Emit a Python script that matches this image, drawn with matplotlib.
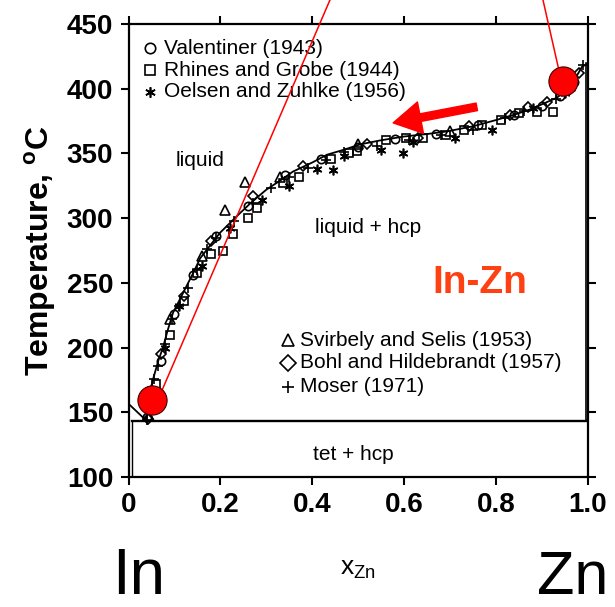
import matplotlib
matplotlib.use("Agg")
import matplotlib.pyplot as plt

plt.rcParams['font.family'] = ['Liberation Sans', 'DejaVu Sans']
plt.rcParams['mathtext.fontset'] = 'custom'
plt.rcParams['mathtext.rm'] = 'Liberation Sans'
plt.rcParams['mathtext.bf'] = 'Liberation Sans:bold'

# ---------------- data ----------------
liq_x = [0.0, 0.039, 0.045, 0.053, 0.065, 0.075, 0.085, 0.097, 0.11, 0.127, 0.14, 0.156, 0.18, 0.20,
         0.243, 0.27, 0.30, 0.33, 0.358, 0.40, 0.432, 0.47, 0.504, 0.547, 0.598, 0.65, 0.693, 0.75,
         0.802, 0.84, 0.874, 0.90, 0.932, 0.961, 0.987, 1.0]
liq_T = [156.6, 143.5, 160, 175, 190, 200, 213, 227, 236, 248, 257, 269, 280, 289,
         304, 313, 322, 329, 336, 343, 349, 353, 357, 360, 363, 365, 367, 371,
         376, 380, 384, 388, 393, 401, 417, 419.5]
eutectic_T = 143.5
eut_x = [0.007, 0.996]
in_solvus_x = [0.007, 0.007]
in_solvus_T = [143.5, 100]
zn_solvus_x = [0.996, 0.996]
zn_solvus_T = [143.5, 419.5]

val_x = [0.04, 0.07, 0.10, 0.14, 0.19, 0.26, 0.34, 0.42, 0.50, 0.58, 0.67, 0.76, 0.84, 0.90, 0.94, 0.97]
val_T = [146, 190, 226, 256, 286, 309, 333, 346, 355, 361, 365, 372, 380, 387, 394, 405]

rhi_x = [0.06, 0.09, 0.12, 0.15, 0.18, 0.206, 0.228, 0.26, 0.28, 0.337, 0.37, 0.44, 0.48, 0.497,
         0.56, 0.605, 0.64, 0.69, 0.73, 0.77, 0.81, 0.85, 0.889, 0.924]
rhi_T = [172, 210, 236, 258, 272, 275, 288, 300, 308, 327, 332, 346, 350, 352,
         360, 362, 362, 364, 368, 372, 376, 381, 382, 382]

oel_x = [0.05, 0.08, 0.11, 0.16, 0.22, 0.29, 0.35, 0.41, 0.445, 0.47, 0.55, 0.598, 0.62, 0.71, 0.79, 0.88, 0.95]
oel_T = [168, 200, 232, 263, 292, 314, 325, 338, 337, 348, 353, 350, 359, 362, 368, 385, 397]

svi_x = [0.045, 0.09, 0.16, 0.21, 0.254, 0.33, 0.50, 0.70, 0.96]
svi_T = [147, 222, 271, 306, 328, 332, 357, 367, 402]

boh_x = [0.042, 0.07, 0.12, 0.18, 0.27, 0.38, 0.52, 0.63, 0.74, 0.83, 0.87, 0.91, 0.95, 0.98]
boh_T = [145, 195, 240, 282, 317, 340, 357, 362, 371, 380, 386, 390, 399, 412]

mos_x = [0.04, 0.055, 0.065, 0.08, 0.095, 0.11, 0.13, 0.15, 0.17, 0.19, 0.23, 0.27, 0.31, 0.35,
         0.39, 0.43, 0.47, 0.54, 0.61, 0.68, 0.75, 0.82, 0.86, 0.93, 0.99]
mos_T = [144, 176, 186, 203, 222, 232, 246, 260, 276, 285, 298, 312, 323, 332,
         339, 345, 351, 356, 360, 364, 368, 377, 383, 392, 418]

x_ticks = [0, 0.2, 0.4, 0.6, 0.8, 1.0]
x_ticklabels = ['0', '0.2', '0.4', '0.6', '0.8', '1.0']
y_ticks = [100, 150, 200, 250, 300, 350, 400, 450]

legend_top = ['Valentiner (1943)', 'Rhines and Grobe (1944)', 'Oelsen and Zuhlke (1956)']
legend_bot = ['Svirbely and Selis (1953)', 'Bohl and Hildebrandt (1957)', 'Moser (1971)']

dot_x = [0.051, 0.9456]
dot_T = [159.5, 406]
line1_x = [0.0686, 0.4385]
line1_T = [163.4, 468.6]
line2_x = [0.939, 0.902]
line2_T = [410.7, 468.6]
arrow_tail = (0.758, 386)
arrow_head = (0.576, 373.6)

# ---------------- figure ----------------
fig = plt.figure(figsize=(6.15, 6.07), dpi=100)
ax = fig.add_axes([128.5/615, 130/607, 459.5/615, 453/607])
ax.set_xlim(0, 1.0)
ax.set_ylim(100, 450)

ax.plot(liq_x, liq_T, color='black', lw=1.3, zorder=3)
ax.plot(eut_x, [eutectic_T, eutectic_T], color='black', lw=1.7, zorder=3)
ax.plot(in_solvus_x, in_solvus_T, color='black', lw=1.0, zorder=3)
ax.plot(zn_solvus_x, zn_solvus_T, color='black', lw=1.2, zorder=3)

mk = dict(linestyle='none', markerfacecolor='none', markeredgecolor='black', markeredgewidth=1.2, zorder=4)
ax.plot(val_x, val_T, marker='o', ms=6, **mk)
ax.plot(rhi_x, rhi_T, marker='s', ms=6, **mk)
ax.plot(oel_x, oel_T, marker=(6, 2, 0), ms=7, **mk)
ax.plot(svi_x, svi_T, marker='^', ms=6.5, **mk)
ax.plot(boh_x, boh_T, marker='D', ms=5.5, **mk)
ax.plot(mos_x, mos_T, marker='+', ms=7.5, **mk)

# legends drawn as text
top_markers = ['o', 's', (6, 2, 0)]
top_y = [0.947, 0.898, 0.850]
for m, yy, lab in zip(top_markers, top_y, legend_top):
    ax.plot([0.047], [yy], marker=m, ms=7.5, transform=ax.transAxes, **mk)
    ax.text(0.078, yy, lab, transform=ax.transAxes, fontsize=15, va='center', ha='left')
bot_markers = ['^', 'D', '+']
bot_y = [0.302, 0.252, 0.199]
for m, yy, lab in zip(bot_markers, bot_y, legend_bot):
    ax.plot([0.347], [yy], marker=m, ms=8, transform=ax.transAxes, **mk)
    ax.text(0.373, yy, lab, transform=ax.transAxes, fontsize=15, va='center', ha='left')

ax.text(0.156, 0.698, 'liquid', transform=ax.transAxes, fontsize=15, ha='center', va='center')
ax.text(0.521, 0.550, 'liquid + hcp', transform=ax.transAxes, fontsize=15, ha='center', va='center')
ax.text(0.489, 0.049, 'tet + hcp', transform=ax.transAxes, fontsize=15, ha='center', va='center')

ax.text(0.765, 0.428, 'In-Zn', transform=ax.transAxes, fontsize=28, fontweight='bold',
        color='#ff4013', ha='center', va='center')

# axes styling
for s in ax.spines.values():
    s.set_linewidth(1.6)
ax.set_xticks(x_ticks)
ax.set_xticklabels(x_ticklabels)
ax.set_yticks(y_ticks)
ax.tick_params(direction='out', length=6, width=1.5, top=True, right=True,
               labeltop=False, labelright=False, labelsize=20, pad=5)
for lab in ax.get_xticklabels() + ax.get_yticklabels():
    lab.set_fontweight('bold')
ax.set_ylabel('Temperature, $^{\\mathregular{o}}$C', fontsize=23, fontweight='bold', labelpad=6)
ax.set_xlabel('x$_{\\mathregular{Zn}}$', fontsize=19, labelpad=28)

# red annotations
ax.plot(line1_x, line1_T, color='red', lw=1.1, clip_on=False, zorder=6)
ax.plot(line2_x, line2_T, color='red', lw=1.1, clip_on=False, zorder=6)
ax.plot(dot_x, dot_T, linestyle='none', marker='o', ms=21, markerfacecolor='#ff0000',
        markeredgecolor='#400000', markeredgewidth=0.8, clip_on=False, zorder=7)
ax.annotate('', xy=arrow_head, xytext=arrow_tail,
            arrowprops=dict(arrowstyle='simple,head_width=2.3,head_length=2.0,tail_width=0.55',
                            mutation_scale=10, color='#ff0000', shrinkA=0, shrinkB=0), zorder=7)

fig.text(112/615, 1 - 594/607, 'In', fontsize=46, ha='left', va='baseline')
fig.text(537/615, 1 - 594/607, 'Zn', fontsize=44, ha='left', va='baseline')

fig.savefig('out.png', dpi=100)
